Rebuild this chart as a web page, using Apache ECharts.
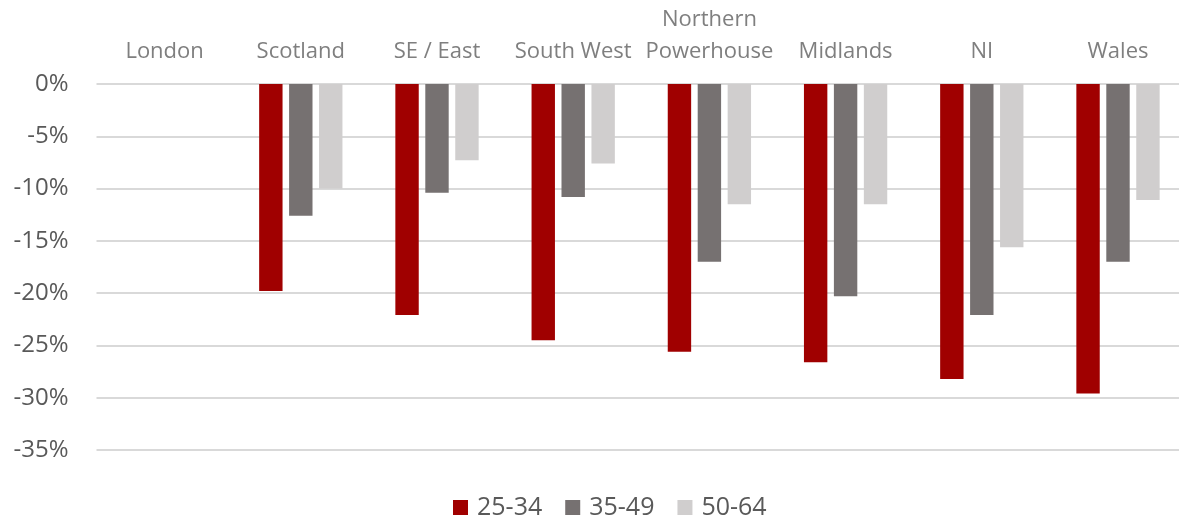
<!DOCTYPE html>
<html>
<head>
<meta charset="utf-8">
<script src="https://cdn.jsdelivr.net/npm/echarts@6/dist/echarts.min.js"></script>
<style>
  html, body { margin: 0; padding: 0; background: #fff; }
  #main { width: 1179px; height: 517px; }
</style>
</head>
<body>
<div id="main"></div>
<script>
var regions = ['London', 'Scotland', 'SE / East', 'South West', 'Northern\nPowerhouse', 'Midlands', 'NI', 'Wales'];
var age2534 = [0, -19.8, -22.1, -24.5, -25.6, -26.6, -28.2, -29.6];
var age3549 = [0, -12.6, -10.4, -10.8, -17.0, -20.3, -22.1, -17.0];
var age5064 = [0, -10.0, -7.3, -7.6, -11.5, -11.5, -15.6, -11.1];
var seriesNames = ['25-34', '35-49', '50-64'];
var colors = ['#a00000', '#767171', '#d0cece'];

var myChart = echarts.init(document.getElementById('main'));
var font = 'Open Sans';
var option = {
    animation: false,
    color: colors,
    textStyle: { fontFamily: font },
    grid: {
        left: 96.5,
        top: 84,
        width: 1089.6,
        height: 366,
        outerBoundsMode: 'none'
    },
    legend: {
        data: seriesNames,
        top: 490,
        left: 448,
        itemWidth: 15,
        itemHeight: 15,
        itemGap: 23,
        icon: 'rect',
        textStyle: { fontSize: 25, color: '#595959', fontFamily: font, padding: [0, 0, 0, 4] }
    },
    xAxis: {
        type: 'category',
        position: 'top',
        data: regions,
        axisLine: { show: false },
        axisTick: { show: false },
        axisLabel: {
            fontSize: 22,
            color: '#7f7f7f',
            lineHeight: 32,
            margin: 16,
            interval: 0
        }
    },
    yAxis: {
        type: 'value',
        min: -35,
        max: 0,
        interval: 5,
        axisLine: { show: false },
        axisTick: { show: false },
        axisLabel: {
            formatter: '{value}%',
            fontSize: 24,
            color: '#595959',
            margin: 28
        },
        splitLine: { lineStyle: { color: '#d9d9d9', width: 2 } }
    },
    series: [
        { name: seriesNames[0], type: 'bar', data: age2534, barWidth: 23.4, barGap: '28%' },
        { name: seriesNames[1], type: 'bar', data: age3549, barWidth: 23.4, barGap: '28%' },
        { name: seriesNames[2], type: 'bar', data: age5064, barWidth: 23.4, barGap: '28%' }
    ]
};
myChart.setOption(option);
</script>
</body>
</html>
